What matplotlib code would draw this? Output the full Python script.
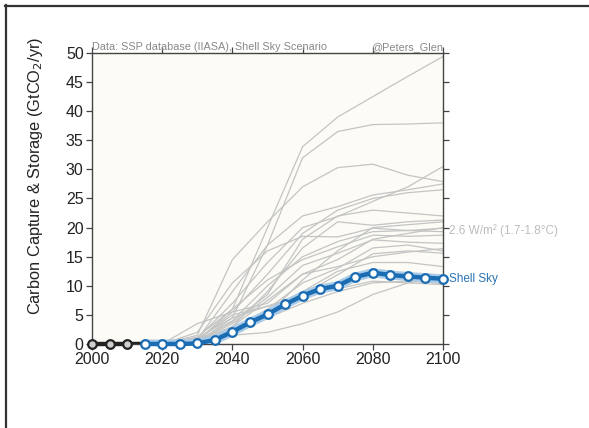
import matplotlib
matplotlib.use("Agg")
import matplotlib.pyplot as plt
from matplotlib.lines import Line2D

plt.rcParams['font.family'] = ['Liberation Sans', 'DejaVu Sans']

# Scenario years (SSP database, 2.6 W/m2 scenarios)
years = [2010, 2020, 2030, 2040, 2050, 2060, 2070, 2080, 2090, 2100]
s01 = [0, 0, 0.5, 6.0, 20.0, 33.9, 39.0, 42.5, 46.0, 49.4]
s02 = [0, 0, 0.3, 4.5, 17.0, 32.0, 36.5, 37.7, 37.8, 38.0]
s03 = [0, 0, 1.5, 14.5, 21.0, 27.0, 30.3, 30.9, 29.0, 27.9]
s04 = [0, 0, 0.8, 9.0, 17.0, 22.0, 23.6, 25.6, 26.5, 27.5]
s05 = [0, 0, 0.5, 5.5, 12.0, 19.0, 23.0, 25.0, 26.0, 26.5]
s06 = [0, 0, 1.0, 7.0, 14.0, 20.0, 21.9, 24.5, 27.0, 30.5]
s07 = [0, 0, 0.3, 3.0, 9.0, 16.5, 21.0, 20.4, 21.0, 21.3]
s08 = [0, 0, 2.0, 10.5, 16.0, 18.5, 18.4, 19.9, 19.5, 19.3]
s09 = [0, 0, 0.5, 4.0, 10.0, 15.0, 17.6, 19.3, 19.5, 19.9]
s10 = [0, 0, 1.2, 6.0, 11.0, 14.5, 16.7, 18.7, 18.5, 18.7]
s11 = [0, 0, 0.4, 3.5, 8.0, 13.5, 15.6, 17.9, 17.5, 17.3]
s12 = [0, 0, 3.5, 5.5, 7.0, 12.0, 13.3, 15.0, 15.8, 16.4]
s13 = [0, 0, 0.8, 5.0, 6.5, 8.5, 11.9, 15.5, 16.0, 15.6]
s14 = [0, 0, 0.3, 2.5, 6.0, 10.5, 13.0, 16.5, 17.0, 16.0]
s15 = [0, 0, 0.2, 2.0, 5.5, 9.0, 12.5, 14.0, 14.0, 13.3]
s16 = [0, 0, 0.3, 1.5, 2.0, 3.5, 5.5, 8.5, 10.5, 11.5]
s17 = [0, 0, 0.2, 1.5, 4.5, 7.0, 9.0, 10.5, 10.8, 10.4]
s18 = [0, 0, 1.0, 4.5, 6.5, 8.0, 9.5, 10.8, 10.5, 10.2]
s19 = [0, 0, 0.5, 3.0, 7.5, 12.0, 14.5, 18.0, 19.0, 20.0]
s20 = [0, 0, 0.2, 2.5, 5.0, 11.0, 16.0, 20.0, 20.5, 21.0]
s21 = [0, 0, 0.6, 3.8, 8.5, 18.0, 22.0, 23.0, 22.5, 22.0]
scenarios = [s01, s02, s03, s04, s05, s06, s07, s08, s09, s10, s11,
             s12, s13, s14, s15, s16, s17, s18, s19, s20, s21]

# Historical
hist_years = [2000, 2005, 2010, 2015]
hist_vals = [0, 0, 0, 0]

# Shell Sky scenario
sky_years = [2015, 2020, 2025, 2030, 2035, 2040, 2045, 2050, 2055, 2060,
             2065, 2070, 2075, 2080, 2085, 2090, 2095, 2100]
sky_vals = [0, 0, 0, 0.1, 0.7, 2.1, 3.7, 5.1, 6.8, 8.3,
            9.45, 10.0, 11.5, 12.25, 11.86, 11.6, 11.4, 11.2]

xticks = [2000, 2020, 2040, 2060, 2080, 2100]
yticks = [0, 5, 10, 15, 20, 25, 30, 35, 40, 45, 50]

fig = plt.figure(figsize=(5.89, 4.28), dpi=100)
ax = fig.add_axes([92/589, 1-344/428, (443-92)/589, (344-53)/428])
ax.set_facecolor('#fcfbf5')

for s in scenarios:
    ax.plot(years, s, color='#c4c4c4', lw=0.9, zorder=2)

ax.plot(sky_years, sky_vals, color='#a9cbe8', lw=6.5, solid_capstyle='round', zorder=3)
ax.plot(sky_years, sky_vals, color='#1a6cb3', lw=3.2, marker='o', ms=6.2,
        mfc='white', mec='#1a6cb3', mew=1.6, zorder=4, clip_on=False)
ax.plot(hist_years[:-1], hist_vals[:-1], color='#222222', lw=3.2, marker='o', ms=6.2,
        mfc='#cfcfcf', mec='#222222', mew=1.6, zorder=5, clip_on=False)
ax.plot(hist_years[-2:], hist_vals[-2:], color='#222222', lw=3.2, zorder=3.5,
        solid_capstyle='butt')

ax.set_xlim(2000, 2100)
ax.set_ylim(0, 50)
ax.set_xticks(xticks)
ax.set_yticks(yticks)
ax.tick_params(axis='both', direction='out', length=4, width=0.9, color='#444444',
               labelsize=11.5, labelcolor='#222222', pad=2, top=True, right=True,
               labeltop=False, labelright=False)
for sp in ax.spines.values():
    sp.set_color('#444444')
    sp.set_linewidth(1.0)

ax.set_ylabel('Carbon Capture & Storage (GtCO$_2$/yr)', fontsize=11.8, color='#222222')
ax.yaxis.set_label_coords(-0.134, 0.577)

ax.text(0.0, 1.003, 'Data: SSP database (IIASA), Shell Sky Scenario', transform=ax.transAxes,
        ha='left', va='bottom', fontsize=7.8, color='#888888')
ax.text(1.0, 1.003, '@Peters_Glen', transform=ax.transAxes,
        ha='right', va='bottom', fontsize=7.8, color='#888888')
ax.text(2101.8, 19.5, '2.6 W/m² (1.7-1.8°C)', ha='left', va='center', fontsize=8.5,
        color='#bdbdbd', clip_on=False)
ax.text(2101.8, 11.2, 'Shell Sky', ha='left', va='center', fontsize=8.5,
        color='#2a74b5', clip_on=False)

# outer frame (top and left edges)
fig.add_artist(Line2D([5/589, 1], [1-5.5/428, 1-5.5/428], transform=fig.transFigure,
                      color='#333333', lw=1.6))
fig.add_artist(Line2D([5.5/589, 5.5/589], [0, 1-5/428], transform=fig.transFigure,
                      color='#333333', lw=1.6))

fig.savefig('out.png', dpi=100)
